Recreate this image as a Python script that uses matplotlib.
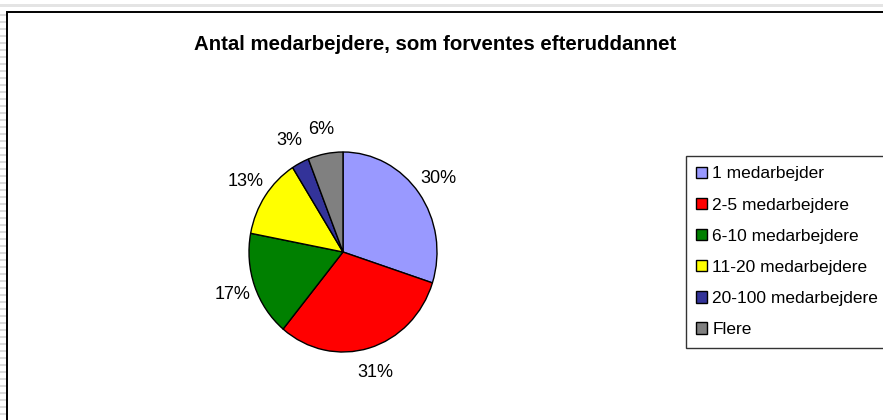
import matplotlib.pyplot as plt
from matplotlib.patches import Patch, Rectangle

plt.rcParams['font.family'] = ['Liberation Sans', 'DejaVu Sans']

# data
categories = ['1 medarbejder', '2-5 medarbejdere', '6-10 medarbejdere',
              '11-20 medarbejdere', '20-100 medarbejdere', 'Flere']
shares = [30, 31, 17, 13, 3, 6]
colors = ['#9999FF', '#FF0000', '#008000', '#FFFF00', '#333399', '#808080']
title = 'Antal medarbejdere, som forventes efteruddannet'

W, H = 883, 420
fig = plt.figure(figsize=(W / 100, H / 100), dpi=100)
fig.patch.set_facecolor('white')

# Excel-ish sheet background around the chart area
fig.add_artist(Rectangle((0, 1 - 7 / H), 1, 3 / H, transform=fig.transFigure,
                         facecolor='#e4e4e4', edgecolor='none', zorder=-3))
for y in range(14, H, 7):
    fig.add_artist(Rectangle((0, 1 - (y + 2) / H), 6 / W, 2 / H,
                             transform=fig.transFigure,
                             facecolor='#dcdcdc', edgecolor='none', zorder=-3))

# chart area border (runs off the right and bottom edges)
fig.add_artist(Rectangle((6.5 / W, -0.1), 1.2, 1.1 - 12.5 / H,
                         transform=fig.transFigure, facecolor='white',
                         edgecolor='black', linewidth=1.4, zorder=-2))

fig.text(435 / W, 1 - 44 / H, title, ha='center', va='center',
         fontsize=14.7, fontweight='bold')

# pie, slightly taller than wide like the original
cx, cy, rx, ry = 343, 252, 94, 100
ax = fig.add_axes([(cx - rx) / W, (H - cy - ry) / H, 2 * rx / W, 2 * ry / H])
wedges, texts, autotexts = ax.pie(
    shares, colors=colors, startangle=90, counterclock=False,
    autopct='%1.0f%%', pctdistance=1.25,
    wedgeprops=dict(edgecolor='black', linewidth=1.0),
    textprops=dict(fontsize=13))
ax.set_aspect('auto')
ax.set_xlim(-1, 1)
ax.set_ylim(-1, 1)
ax.axis('off')

handles = [Patch(facecolor=c, edgecolor='black', linewidth=1.0) for c in colors]
leg = fig.legend(handles, categories, loc='upper left',
                 bbox_to_anchor=(686 / W, 1 - 156 / H), fontsize=12.5,
                 frameon=True, fancybox=False, handlelength=0.62,
                 handleheight=0.62, handletextpad=0.3, labelspacing=0.93,
                 borderpad=0.6, borderaxespad=0)
leg.get_frame().set_edgecolor('black')
leg.get_frame().set_linewidth(1.0)

fig.savefig('out.png', dpi=100)
